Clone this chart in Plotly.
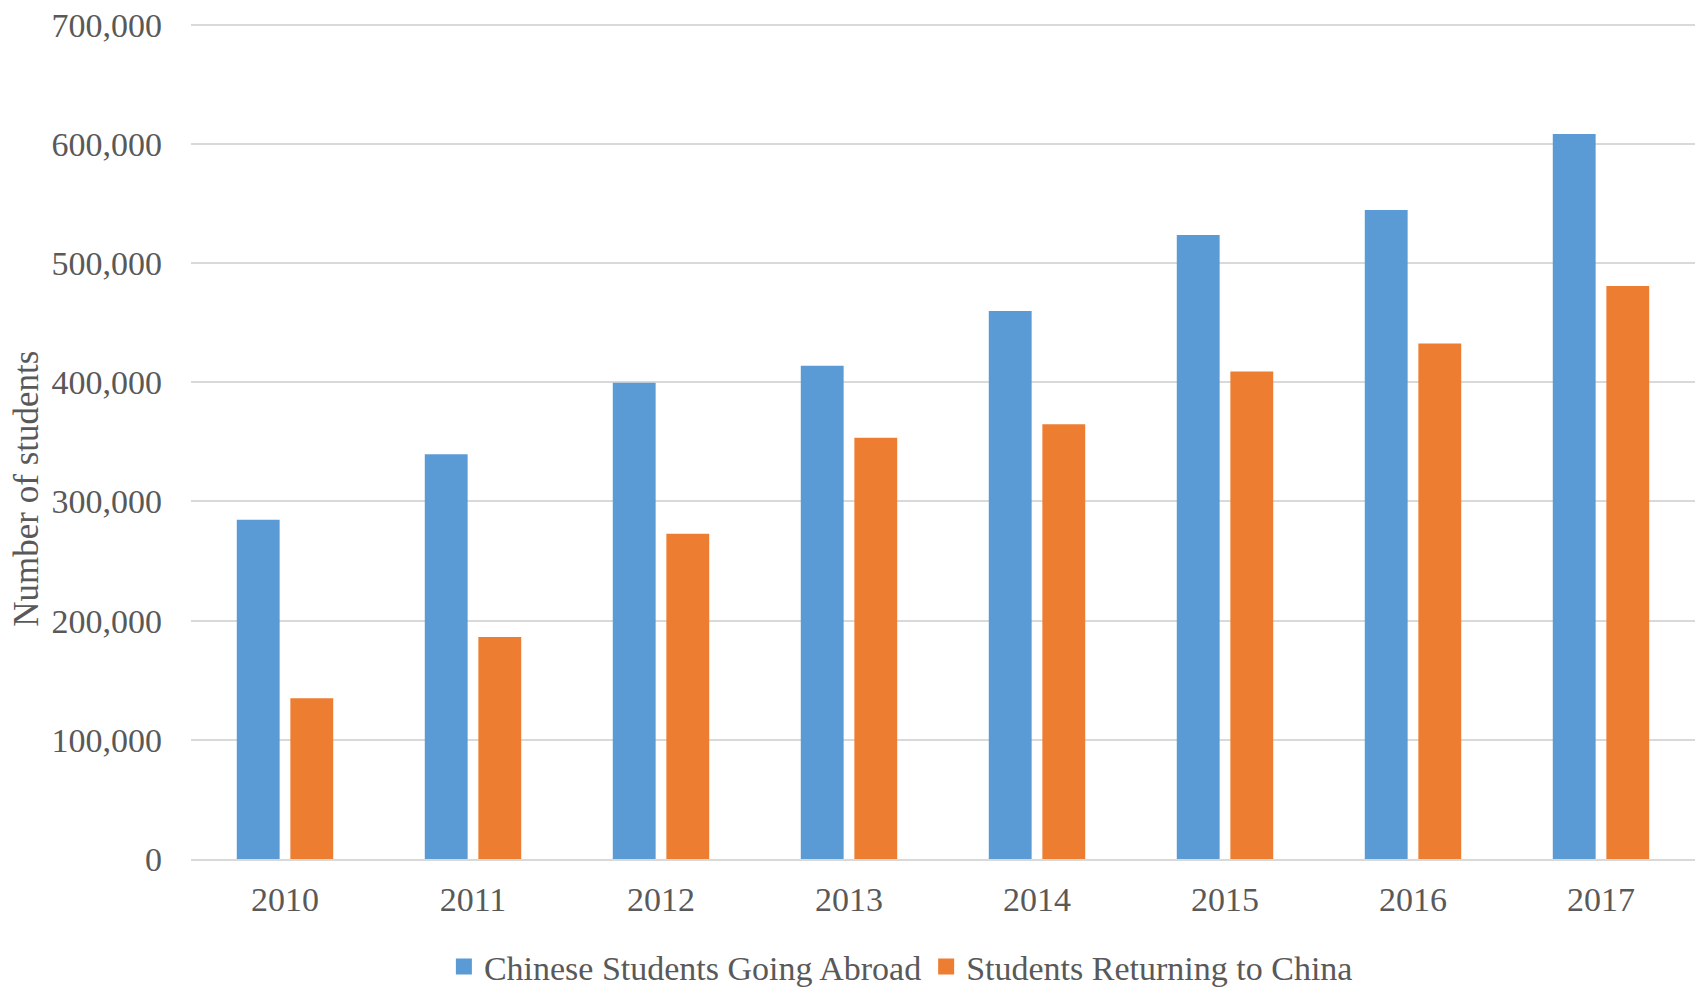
import plotly.graph_objects as go

years = ["2010", "2011", "2012", "2013", "2014", "2015", "2016", "2017"]
going_abroad = [284700, 339700, 399600, 413900, 459800, 523700, 544500, 608400]
returning = [134800, 186200, 272900, 353500, 364800, 409100, 432500, 480900]

y_ticks = [0, 100000, 200000, 300000, 400000, 500000, 600000, 700000]
y_tick_text = ["0", "100,000", "200,000", "300,000", "400,000", "500,000", "600,000", "700,000"]

series = [
    ("Chinese Students Going Abroad", going_abroad, "#5B9BD5"),
    ("Students Returning to China", returning, "#ED7D31"),
]

FONT = "Liberation Serif"
SIZE = 34
TEXT = "#595959"
GRID = "#D9D9D9"

fig = go.Figure()
for name, values, color in series:
    fig.add_trace(go.Bar(name=name, x=years, y=values, showlegend=False,
                         marker=dict(color=color, line=dict(width=0))))
# legend entries with larger square swatches
for name, values, color in series:
    fig.add_trace(go.Scatter(name=name, x=[None], y=[None], mode="markers",
                             marker=dict(symbol="square", size=16, color=color)))

fig.update_layout(
    width=1697, height=987,
    margin=dict(l=191, r=2, t=23, b=128, autoexpand=False),
    plot_bgcolor="white", paper_bgcolor="white",
    barmode="group", bargap=0.43, bargroupgap=0.2,
    font=dict(family=FONT, size=SIZE, color=TEXT),
    showlegend=True,
    legend=dict(orientation="h", x=0.472, xanchor="center", y=-0.129, yanchor="middle",
                font=dict(family=FONT, size=SIZE, color=TEXT), itemwidth=30,
                bgcolor="rgba(0,0,0,0)"),
    annotations=[dict(text="Number of students", textangle=-90, xref="paper", yref="paper",
                      x=-0.109, y=0.443, xanchor="center", yanchor="middle", showarrow=False,
                      font=dict(family=FONT, size=SIZE + 1, color=TEXT))],
)
fig.update_xaxes(showgrid=False, showline=True, linecolor=GRID, linewidth=1.5,
                 ticks="", ticklabelstandoff=9, tickfont=dict(family=FONT, size=SIZE, color=TEXT))
fig.update_yaxes(range=[0, 701500], tickvals=y_ticks, ticktext=y_tick_text,
                 showgrid=True, gridcolor=GRID, gridwidth=1.5, zeroline=False,
                 showline=False, ticks="", ticklabelstandoff=28,
                 tickfont=dict(family=FONT, size=SIZE, color=TEXT))

fig.write_html("out.html")
